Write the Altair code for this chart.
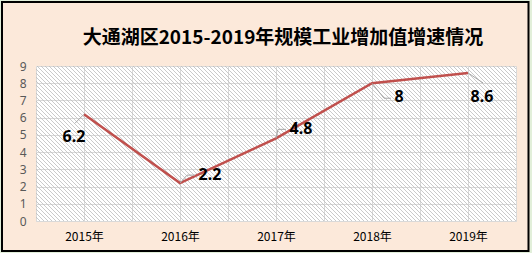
import json
import altair as alt
import numpy as np
import pandas as pd

# ---- data ----
years = ["2015年", "2016年", "2017年", "2018年", "2019年"]
growth = [6.2, 2.2, 4.8, 8, 8.6]
labels = ["6.2", "2.2", "4.8", "8", "8.6"]
y_ticks = list(range(0, 10))
title_text = "大通湖区2015-2019年规模工业增加值增速情况"

# ---- layout / style ----
W, H = 480, 155
PAD = {"left": 36, "top": 66, "right": 16, "bottom": 32}
X_DOM = [-0.5, len(years) - 0.5]
Y_DOM = [0, 9]
GRID = "#D9D9D9"
LINE = "#C0504D"
LEADER = "#A6A6A6"

# label offsets (px) and leader segments (px, relative to the point)
label_dx = [-10, 30, 25, 27, 14]
label_dy = [23, -8, -9, 14, 24]
leader_segs = [
    [(0, 0, -9, 9)],
    [(0, 0, 7, -8), (7, -8, 15, -8)],
    [(0, 0, 2, -9), (2, -9, 10, -9)],
    [(0, 0, 12, 15), (12, 15, 19, 15)],
    [(0, 0, 15, 10)],
]

df = pd.DataFrame({"idx": list(range(len(years))), "year": years,
                   "val": growth, "label": labels})

xscale = alt.Scale(domain=X_DOM, nice=False, zero=False)
yscale = alt.Scale(domain=Y_DOM, nice=False, zero=True)

label_expr = ("(datum.value % 1 == 0 && datum.value >= 0 && datum.value < "
              + str(len(years)) + ") ? " + json.dumps(years, ensure_ascii=False)
              + "[datum.value] : ''")
xaxis = alt.Axis(values=[X_DOM[0] + 0.5 * k for k in range(2 * len(years) + 1)],
                 labelExpr=label_expr, title=None, grid=True, gridColor=GRID,
                 ticks=False, domainColor=GRID, labelFont="Noto Sans CJK SC",
                 labelFontSize=12, labelColor="#000000", labelPadding=10,
                 labelFlush=False, labelOverlap=False)
yaxis = alt.Axis(values=y_ticks, title=None, grid=True, gridColor=GRID, ticks=False,
                 domain=False, labelFont="Noto Sans", labelFontSize=12,
                 labelColor="#595959", labelPadding=10)

# decorative hatch for the plot background
step = 4.0
ux = W / (X_DOM[1] - X_DOM[0])
n = int((W + H) / step) + 2
starts = X_DOM[0] - H / ux + np.arange(n) * step / ux
hatch_df = pd.DataFrame({"hx1": starts, "hx2": starts + H / ux,
                         "hy1": Y_DOM[1], "hy2": Y_DOM[0]})

hatch = alt.Chart(hatch_df).mark_rule(color="#BDBDBD", strokeWidth=0.8, clip=True).encode(
    x=alt.X("hx1:Q", scale=xscale, axis=xaxis), x2="hx2:Q",
    y=alt.Y("hy1:Q", scale=yscale, axis=yaxis), y2="hy2:Q")

base = alt.Chart(df)

line = base.mark_line(color=LINE, strokeWidth=2.5).encode(
    x=alt.X("idx:Q", scale=xscale, axis=xaxis),
    y=alt.Y("val:Q", scale=yscale, axis=yaxis))

layers = [hatch, line]

for i in range(len(years)):
    for (a, b, c, d) in leader_segs[i]:
        layers.append(
            base.transform_filter(alt.datum.idx == i)
            .mark_rule(color=LEADER, strokeWidth=1, xOffset=a, yOffset=b, x2Offset=c, y2Offset=d)
            .encode(x=alt.X("idx:Q", scale=xscale, axis=xaxis), x2="idx:Q",
                    y=alt.Y("val:Q", scale=yscale, axis=yaxis), y2="val:Q"))
    layers.append(
        base.transform_filter(alt.datum.idx == i)
        .mark_text(font="Noto Sans", fontSize=16, fontWeight="bold", color="#000000",
                   dx=label_dx[i], dy=label_dy[i], align="center", baseline="middle")
        .encode(x=alt.X("idx:Q", scale=xscale, axis=xaxis),
                y=alt.Y("val:Q", scale=yscale, axis=yaxis), text="label:N"))

# title
title_df = pd.DataFrame({"t": [title_text]})
layers.append(alt.Chart(title_df).mark_text(
    font="Noto Sans CJK SC", fontSize=19, fontWeight="bold", color="#000000",
    align="center", baseline="middle").encode(
    x=alt.value(283 - PAD["left"]), y=alt.value(38 - PAD["top"]), text="t:N"))

# frame: outer green and black border (stroke only)
frame_df = pd.DataFrame({"k": [0]})
layers.append(alt.Chart(frame_df).mark_rect(fill=None, stroke="#E2EFDA", strokeWidth=6).encode(
    x=alt.value(-2 - PAD["left"]), x2=alt.value(532.5 - PAD["left"]),
    y=alt.value(-2 - PAD["top"]), y2=alt.value(255 - PAD["top"])))
layers.append(alt.Chart(frame_df).mark_rect(fill=None, stroke="#000000", strokeWidth=2).encode(
    x=alt.value(2 - PAD["left"]), x2=alt.value(528.5 - PAD["left"]),
    y=alt.value(2 - PAD["top"]), y2=alt.value(251 - PAD["top"])))

chart = alt.layer(*layers).properties(
    width=W, height=H,
    autosize=alt.AutoSizeParams(type="none"),
    padding=PAD,
    background="#FCE9DA",
).configure_view(stroke=None, fill="white")

chart.save("out.html", embed_options={"renderer": "svg", "actions": False})
